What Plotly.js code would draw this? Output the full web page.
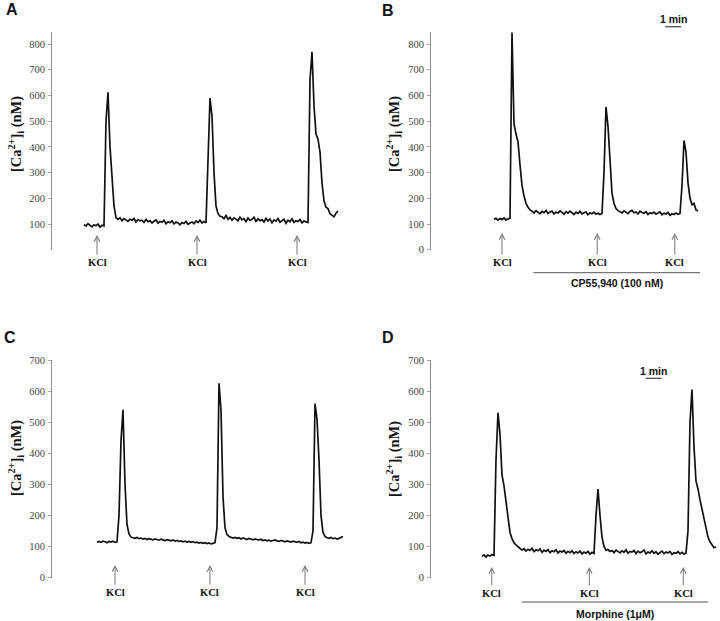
<!DOCTYPE html>
<html><head><meta charset="utf-8">
<script src="https://cdn.plot.ly/plotly-3.0.1.min.js"></script>
<style>html,body{margin:0;padding:0;background:#fff}#chart{width:720px;height:621px}</style>
</head><body><div id="chart"></div><script>
// ---------- DATA ----------
const TIME_STEP = 0.125; // minutes between samples
// Panel A: control, three KCl pulses  ([Ca2+]i, nM)
const caA = [98,92,101,94,89,97,93,100,88,95,92,
  500,612,400,300,170,125,
  118,124,113,121,116,110,119,114,122,108,117,112,115,106,118,109,113,104,111,116,103,110,107,114,101,109,105,112,100,108,104,97,106,102,110,99,104,108,101,112,106,115,104,110,
  105,400,590,520,300,170,140,130,
  128,121,133,118,126,115,124,119,112,127,116,121,109,123,114,118,126,110,120,113,117,108,122,112,119,105,116,111,121,107,114,118,103,115,109,120,106,113,110,117,104,112,108,
  106,660,770,560,450,430,380,260,190,165,160,140,135,128,142,150];
// Panel B: CP55,940 (100 nM)
const caB = [118,122,115,121,117,124,116,120,123,
  845,490,450,420,330,250,210,180,165,155,
  150,143,152,146,140,149,144,153,141,147,150,139,146,143,151,145,138,148,142,150,144,137,146,141,149,139,144,147,136,143,140,146,138,142,137,141,
  300,555,480,330,220,180,160,152,
  148,143,151,146,140,149,153,144,147,139,150,145,142,148,137,144,141,146,138,143,147,136,142,139,145,134,140,137,143,138,141,
  250,425,380,260,200,175,180,155,150];
// Panel C: control
const caC = [114,116,113,117,115,112,116,114,117,113,115,
  200,440,540,300,170,140,130,
  128,126,129,125,127,124,126,122,125,123,121,124,122,120,123,121,119,122,120,118,121,117,119,116,118,115,117,114,116,113,115,112,114,111,113,110,112,109,111,108,110,
  112,160,625,540,260,160,138,132,
  130,127,129,126,128,124,127,125,122,126,123,121,124,122,120,123,119,121,118,120,117,119,121,118,116,119,117,115,118,116,114,117,115,113,116,112,114,111,113,110,112,
  150,560,510,380,200,145,132,
  128,126,129,125,127,124,126,128,132];
// Panel D: Morphine (1 uM)
const caD = [68,73,66,72,69,74,71,
  380,530,460,330,295,245,190,145,125,112,105,100,
  96,88,93,85,91,87,94,83,89,86,92,81,88,84,90,80,86,83,89,79,85,82,87,78,84,80,86,77,83,79,85,76,82,78,84,75,81,77,
  200,285,200,130,100,88,
  90,84,87,80,88,83,79,86,81,89,78,84,82,87,77,85,80,83,88,76,82,79,86,78,83,75,81,85,77,82,79,84,74,80,78,83,76,81,75,79,
  150,500,605,420,310,285,250,220,185,155,130,115,105,96,98];
// KCl addition times (min)
const kclA = [0.8125, 7.0625, 13.3125];
const kclB = [0.5, 6.45, 11.3];
const kclC = [1.125, 7.06, 13.0];
const kclD = [0.61, 6.71, 12.58];
// Drug application periods (min) and labels
const drugB = {label: 'CP55,940 (100 nM)', start: 2.46, end: 12.875};
const drugD = {label: 'Morphine (1\u03bcM)', start: 2.48, end: 14.14};
// 1-min scale bars (min)
const scaleB = [10.7, 11.7];
const scaleD = [10.23, 11.23];
// y tick labels
const ticksA = [100,200,300,400,500,600,700,800];
const ticksB = [0,100,200,300,400,500,600,700,800];
const ticksCD = [0,100,200,300,400,500,600,700];
const panelLetters = ['A','B','C','D'];
const yTitle = '<b>[Ca<sup>2+</sup>]<sub>i</sub> (nM)</b>';

// ---------- LAYOUT ----------
const W = 720, H = 621;
const px = v => v / W, py = v => 1 - v / H;

function yax(domain, range, tickvals, anchor) {
  return {domain, range, autorange: false, tickvals, anchor,
    showline: true, linecolor: '#8c8c8c', linewidth: 1,
    ticks: 'outside', ticklen: 3, tickcolor: '#aaa', tickwidth: 1,
    showgrid: false, zeroline: false, ticklabelstandoff: 1,
    tickfont: {family: 'Liberation Serif', size: 10.5, color: '#444'}};
}
function xax(domain, range, anchor) {
  return {domain, range, autorange: false, visible: false, anchor};
}

const traceStyle = {type: 'scatter', mode: 'lines', x0: 0, dx: TIME_STEP,
  line: {color: '#111', width: 1.7}, hoverinfo: 'skip'};
const data = [
  Object.assign({y: caA, xaxis: 'x', yaxis: 'y'}, traceStyle),
  Object.assign({y: caB, xaxis: 'x2', yaxis: 'y2'}, traceStyle),
  Object.assign({y: caC, xaxis: 'x3', yaxis: 'y3'}, traceStyle),
  Object.assign({y: caD, xaxis: 'x4', yaxis: 'y4'}, traceStyle)
];

const annotations = [];
function kcl(times, xref, tipY, textY) {
  times.forEach(t => annotations.push({
    xref, yref: 'paper', x: t, y: py(tipY), text: '<b>KCl</b>',
    showarrow: true, arrowhead: 5, arrowsize: 1.1, arrowwidth: 1, arrowcolor: '#777',
    ax: 0, ay: textY - tipY, startstandoff: 1,
    font: {family: 'Liberation Serif', size: 10.5, color: '#111'}
  }));
}
kcl(kclA, 'x', 235, 262.7);
kcl(kclB, 'x2', 233, 262.7);
kcl(kclC, 'x3', 565, 592.7);
kcl(kclD, 'x4', 567, 593.3);

const sans = {family: 'Liberation Sans', size: 10.5, color: '#111'};
function txt(xref, x, y, text, font) {
  annotations.push({xref, yref: 'paper', x, y: py(y), text, showarrow: false,
    xanchor: 'center', yanchor: 'middle', font});
}
txt('x2', (drugB.start + drugB.end) / 2, 282.7, '<b>' + drugB.label + '</b>', sans);
txt('x4', (drugD.start + drugD.end) / 2, 614, '<b>' + drugD.label + '</b>', sans);
txt('x2', (scaleB[0] + scaleB[1]) / 2, 19.3, '<b>1 min</b>', sans);
txt('x4', (scaleD[0] + scaleD[1]) / 2, 371, '<b>1 min</b>', sans);

// panel letters & y titles
const letterPos = [[11.5, 10], [387.5, 10.5], [10, 337], [388, 337]];
panelLetters.forEach((L, i) => txt('paper', px(letterPos[i][0]), letterPos[i][1], '<b>' + L + '</b>',
  {family: 'Liberation Sans', size: 16, color: '#111'}));
const titlePos = [[16, 134], [394, 134], [16, 458], [394, 459]];
titlePos.forEach(p => annotations.push({xref: 'paper', yref: 'paper', x: px(p[0]), y: py(p[1]),
  text: yTitle, textangle: -90, showarrow: false, xanchor: 'center', yanchor: 'middle',
  font: {family: 'Liberation Serif', size: 14.5, color: '#111'}}));

const shapes = [];
function hline(xref, x0, x1, y, color, width) {
  shapes.push({type: 'line', xref, yref: 'paper', x0, x1, y0: py(y), y1: py(y),
    line: {color, width}});
}
hline('x2', drugB.start, drugB.end, 272.7, '#555', 1);
hline('x4', drugD.start, drugD.end, 602, '#555', 1);
hline('x2', scaleB[0], scaleB[1], 26.7, '#444', 1.2);
hline('x4', scaleD[0], scaleD[1], 378.3, '#444', 1.2);

const layout = {
  width: W, height: H, margin: {l: 0, r: 0, t: 0, b: 0},
  paper_bgcolor: '#fff', plot_bgcolor: '#fff', showlegend: false,
  font: {family: 'Liberation Serif', color: '#222'},
  xaxis: xax([px(52), px(345)], [-2, 16.3125], 'y'),
  yaxis: yax([py(249.7), py(32)], [0, 847], ticksA, 'x'),
  xaxis2: xax([px(431), px(705)], [-3.9375, 13.1875], 'y2'),
  yaxis2: yax([py(249.7), py(32)], [0, 847], ticksB, 'x2'),
  xaxis3: xax([px(52), px(345)], [-2.8125, 15.5], 'y3'),
  yaxis3: yax([py(577.5), py(360)], [0, 700], ticksCD, 'x3'),
  xaxis4: xax([px(431), px(718)], [-3.1875, 14.75], 'y4'),
  yaxis4: yax([py(577.5), py(360)], [0, 700], ticksCD, 'x4'),
  annotations, shapes
};
Plotly.newPlot('chart', data, layout, {staticPlot: true, displayModeBar: false});
</script></body></html>
